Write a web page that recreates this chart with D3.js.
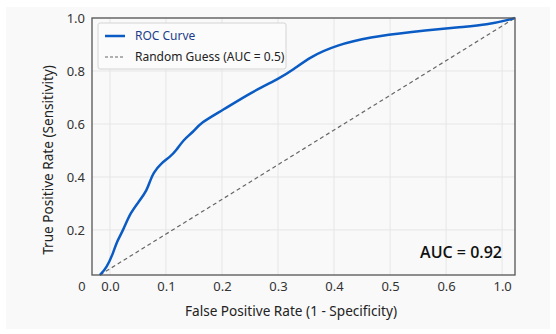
<!DOCTYPE html>
<html>
<head>
<meta charset="utf-8">
<script src="https://cdn.jsdelivr.net/npm/d3@7"></script>
<style>
  html, body { margin: 0; padding: 0; background: #ffffff; }
  svg { display: block; font-family: "Noto Sans", "Open Sans", sans-serif; }
</style>
</head>
<body>
<div id="chart"></div>
<script>
// ROC curve points (axis units)
const fpr = [-0.018, -0.006, 0.006, 0.012, 0.024, 0.036, 0.054, 0.066, 0.071, 0.077, 0.092, 0.107,
             0.119, 0.131, 0.149, 0.161, 0.202, 0.25, 0.304, 0.327, 0.357, 0.405, 0.464, 0.536,
             0.625, 0.673, 0.717, 0.723];
const tpr = [0.03, 0.057, 0.113, 0.155, 0.2, 0.264, 0.313, 0.351, 0.381, 0.415, 0.453, 0.475,
             0.502, 0.54, 0.57, 0.604, 0.653, 0.717, 0.774, 0.804, 0.853, 0.898, 0.928, 0.947,
             0.966, 0.974, 0.996, 1.0];
const guessX = [-0.018, 0.723];
const guessY = [0.03, 1.0];

const xTickValues = [0, 0.1, 0.2, 0.3, 0.4, 0.5, 0.6, 0.7];
const xTickLabels = ["0.0", "0.1", "0.2", "0.3", "0.4", "0.5", "0.6", "1.0"];
const yTickValues = [0.2, 0.4, 0.6, 0.8, 1.0];
const aucLabel = "AUC = 0.92";

const width = 556, height = 334;
const margin = { top: 18, right: 41, bottom: 59, left: 92 };

const svg = d3.select("#chart").append("svg")
    .attr("width", width)
    .attr("height", height);

// light card behind everything
svg.append("rect")
    .attr("x", 6).attr("y", 7)
    .attr("width", 544).attr("height", 322)
    .attr("fill", "#f9f9f9");

const x = d3.scaleLinear()
    .domain([-0.032, 0.723])
    .range([margin.left, width - margin.right]);
const y = d3.scaleLinear()
    .domain([0.03, 1.0])
    .range([height - margin.bottom, margin.top]);

const plotW = width - margin.left - margin.right;
const plotH = height - margin.top - margin.bottom;

// grid
svg.append("g")
    .selectAll("line")
    .data(xTickValues)
    .join("line")
    .attr("x1", d => x(d)).attr("x2", d => x(d))
    .attr("y1", margin.top).attr("y2", height - margin.bottom)
    .attr("stroke", "#e6e6e6").attr("stroke-width", 1);
svg.append("g")
    .selectAll("line")
    .data(yTickValues)
    .join("line")
    .attr("y1", d => y(d)).attr("y2", d => y(d))
    .attr("x1", margin.left).attr("x2", width - margin.right)
    .attr("stroke", "#e6e6e6").attr("stroke-width", 1);

// axes
const xAxis = svg.append("g")
    .attr("transform", `translate(0,${height - margin.bottom})`)
    .call(d3.axisBottom(x).tickValues(xTickValues)
        .tickFormat((d, i) => xTickLabels[i]).tickSize(0).tickPadding(7));
xAxis.select(".domain").remove();
xAxis.selectAll("text").attr("font-size", 13).attr("fill", "#333")
    .attr("font-family", "Noto Sans, sans-serif");
// stray "0" label left of the first tick
xAxis.append("text")
    .attr("x", x(-0.05)).attr("y", 7)
    .attr("dy", "0.71em")
    .attr("text-anchor", "middle")
    .attr("font-size", 13).attr("fill", "#333")
    .text("0");

const yAxis = svg.append("g")
    .attr("transform", `translate(${margin.left},0)`)
    .call(d3.axisLeft(y).tickValues(yTickValues)
        .tickFormat(d3.format(".1f")).tickSize(0).tickPadding(7));
yAxis.select(".domain").remove();
yAxis.selectAll("text").attr("font-size", 13).attr("fill", "#333")
    .attr("font-family", "Noto Sans, sans-serif");

// random guess diagonal
svg.append("path")
    .datum(guessX.map((d, i) => [d, guessY[i]]))
    .attr("d", d3.line().x(d => x(d[0])).y(d => y(d[1])))
    .attr("fill", "none")
    .attr("stroke", "#666")
    .attr("stroke-width", 1.2)
    .attr("stroke-dasharray", "4,3");

// ROC curve
svg.append("path")
    .datum(fpr.map((d, i) => [d, tpr[i]]))
    .attr("d", d3.line().x(d => x(d[0])).y(d => y(d[1])).curve(d3.curveBasis))
    .attr("fill", "none")
    .attr("stroke", "#0a5bc4")
    .attr("stroke-width", 2.5)
    .attr("stroke-linejoin", "round");

// frame
svg.append("rect")
    .attr("x", margin.left).attr("y", margin.top)
    .attr("width", plotW).attr("height", plotH)
    .attr("fill", "none")
    .attr("stroke", "#555").attr("stroke-width", 1.3);

// legend
const legend = svg.append("g").attr("transform", "translate(98,23)");
legend.append("rect")
    .attr("width", 188).attr("height", 46).attr("rx", 2)
    .attr("fill", "#fbfbfb").attr("stroke", "#d4d4d4");
legend.append("line")
    .attr("x1", 7).attr("x2", 27).attr("y1", 13).attr("y2", 13)
    .attr("stroke", "#0a5bc4").attr("stroke-width", 2.5);
legend.append("text")
    .attr("x", 37).attr("y", 13).attr("dy", "0.35em")
    .attr("font-size", 12).attr("fill", "#1d3d8c")
    .text("ROC Curve");
legend.append("line")
    .attr("x1", 7).attr("x2", 27).attr("y1", 34).attr("y2", 34)
    .attr("stroke", "#666").attr("stroke-width", 1.2)
    .attr("stroke-dasharray", "3,2");
legend.append("text")
    .attr("x", 37).attr("y", 34).attr("dy", "0.35em")
    .attr("font-size", 12).attr("fill", "#222")
    .text("Random Guess (AUC = 0.5)");

// AUC annotation
svg.append("text")
    .attr("x", 502).attr("y", 258)
    .attr("text-anchor", "end")
    .attr("font-family", "Open Sans, sans-serif")
    .attr("font-size", 16).attr("font-weight", 600).attr("fill", "#111")
    .text(aucLabel);

// axis titles
svg.append("text")
    .attr("x", 291).attr("y", 316)
    .attr("text-anchor", "middle")
    .attr("font-size", 13.6).attr("fill", "#222")
    .text("False Positive Rate (1 - Specificity)");
svg.append("text")
    .attr("transform", "translate(53,160) rotate(-90)")
    .attr("text-anchor", "middle")
    .attr("font-size", 13.6).attr("fill", "#222")
    .text("True Positive Rate (Sensitivity)");
</script>
</body>
</html>
